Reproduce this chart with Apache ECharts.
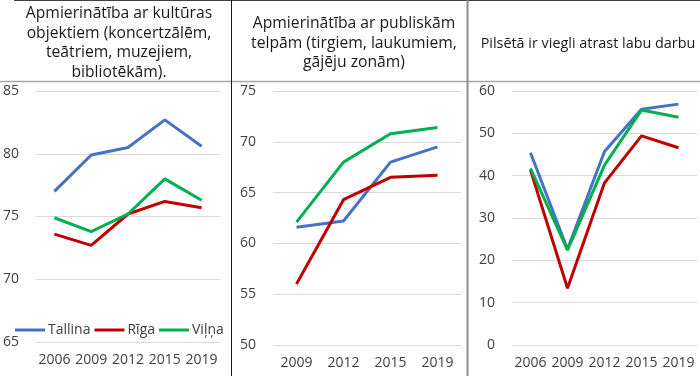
<!DOCTYPE html>
<html>
<head>
<meta charset="utf-8">
<script src="https://cdn.jsdelivr.net/npm/echarts@6/dist/echarts.min.js"></script>
<style>
  html, body { margin: 0; padding: 0; background: #fff; }
  #chart { width: 700px; height: 376px; }
</style>
</head>
<body>
<div id="chart"></div>
<script>
// panel titles
const titles = [
  "Apmierinātība ar kultūras\nobjektiem (koncertzālēm,\nteātriem, muzejiem,\nbibliotēkām).",
  "Apmierinātība ar publiskām\ntelpām (tirgiem, laukumiem,\ngājēju zonām)",
  "Pilsētā ir viegli atrast labu darbu"
];
const cities = ["Tallina", "Rīga", "Viļņa"];
const colors = ["#4472C4", "#C00000", "#00B050"];

// panel 1: culture
const years1 = ["2006", "2009", "2012", "2015", "2019"];
const culture = [
  [77.0, 79.9, 80.5, 82.7, 80.6],
  [73.6, 72.7, 75.2, 76.2, 75.7],
  [74.9, 73.8, 75.2, 78.0, 76.3]
];

// panel 2: public spaces
const years2 = ["2009", "2012", "2015", "2019"];
const publicSpaces = [
  [61.6, 62.2, 68.0, 69.5],
  [56.0, 64.3, 66.5, 66.7],
  [62.1, 68.0, 70.8, 71.4]
];

// panel 3: good job
const years3 = ["2006", "2009", "2012", "2015", "2019"];
const jobs = [
  [45.4, 22.6, 45.7, 55.7, 56.9],
  [41.3, 13.4, 38.3, 49.4, 46.6],
  [41.7, 22.4, 42.5, 55.5, 53.8]
];

const font = "Open Sans";
const txt = "#404040";

function axisX(idx, data) {
  return {
    type: "category", gridIndex: idx, data: data, boundaryGap: true,
    axisLine: { show: false }, axisTick: { show: false },
    axisLabel: { color: txt, fontSize: 14, fontFamily: font, margin: 11, interval: 0 }
  };
}
function axisY(idx, min, max, step) {
  return {
    type: "value", gridIndex: idx, min: min, max: max, interval: step,
    axisLine: { show: false }, axisTick: { show: false },
    axisLabel: { color: txt, fontSize: 14, fontFamily: font, margin: 17 },
    splitLine: { lineStyle: { color: "#d9d9d9", width: 1 } }
  };
}

const series = [];
[culture, publicSpaces, jobs].forEach((panel, p) => {
  panel.forEach((vals, i) => {
    series.push({
      name: cities[i], type: "line", xAxisIndex: p, yAxisIndex: p,
      data: vals, symbol: "none", silent: true,
      lineStyle: { color: colors[i], width: 3 },
      itemStyle: { color: colors[i] }
    });
  });
});

const titleStyle = (size) => ({
  fontFamily: font, fontSize: size, fontWeight: "normal", color: "#1a1a1a", lineHeight: 19.5
});

const chart = echarts.init(document.getElementById("chart"));
chart.setOption({
  animation: false,
  title: [
    { text: titles[0], left: 114, top: -1, textAlign: "center", textStyle: titleStyle(15.7) },
    { text: titles[1], left: 349, top: 9, textAlign: "center", textStyle: titleStyle(15.7) },
    { text: titles[2], left: 583, top: 29, textAlign: "center", textStyle: titleStyle(14.4) }
  ],
  legend: {
    data: cities, left: 10, top: 318, itemWidth: 30, itemHeight: 3, itemGap: 4,
    icon: "rect",
    textStyle: { fontFamily: font, fontSize: 14, color: txt, padding: [0, 0, 0, -2] }
  },
  grid: [
    { left: 35, right: 480, top: 91, bottom: 34 },
    { left: 273, right: 239, top: 91, bottom: 31 },
    { left: 512, right: 3, top: 91, bottom: 31 }
  ],
  xAxis: [axisX(0, years1), axisX(1, years2), axisX(2, years3)],
  yAxis: [axisY(0, 65, 85, 5), axisY(1, 50, 75, 5), axisY(2, 0, 60, 10)],
  series: series,
  graphic: [
    { type: "line", shape: { x1: 14, y1: 0.5, x2: 700, y2: 0.5 }, style: { stroke: "#404040", lineWidth: 1 } },
    { type: "line", shape: { x1: 0, y1: 81.5, x2: 700, y2: 81.5 }, style: { stroke: "#a6a6a6", lineWidth: 1.5 } },
    { type: "line", shape: { x1: 231.5, y1: 0, x2: 231.5, y2: 376 }, style: { stroke: "#1a1a1a", lineWidth: 1 } },
    { type: "line", shape: { x1: 467.5, y1: 0, x2: 467.5, y2: 376 }, style: { stroke: "#8c8c8c", lineWidth: 2 } }
  ]
});
</script>
</body>
</html>
